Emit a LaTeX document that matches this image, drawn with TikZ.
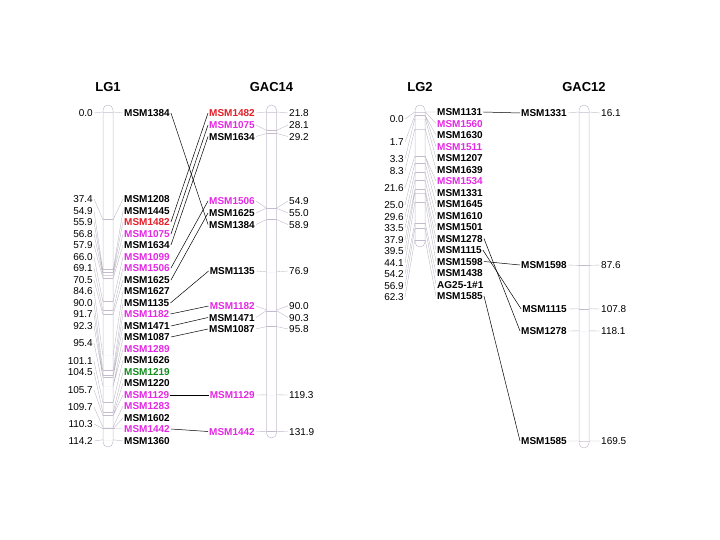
\documentclass[tikz,border=0pt]{standalone}
\usepackage{fontspec}
\setmainfont{Liberation Sans}
\definecolor{mkpink}{RGB}{228,40,228}
\definecolor{mkred}{RGB}{228,30,40}
\definecolor{mkgreen}{RGB}{20,140,30}
\definecolor{barline}{RGB}{196,188,206}
\definecolor{fangray}{RGB}{184,180,192}
\tikzset{
  bar/.style={draw=barline, line width=0.5pt, rounded corners=5pt},
  tk/.style={draw=barline, line width=0.4pt, shape=rectangle, inner sep=0pt, minimum width=10pt, minimum height=0pt},
  num/.style={font=\fontsize{10}{12}\selectfont, inner sep=1pt, text height=7.2pt, text depth=0pt},
  mk/.style={font=\fontsize{10}{12}\selectfont\bfseries, inner sep=1pt, text height=7.2pt, text depth=0pt},
  fan/.style={draw=fangray, line width=0.35pt},
  link/.style={draw=black, line width=0.5pt},
  title/.style={font=\fontsize{13}{15}\selectfont\bfseries}
}
\begin{document}
\begin{tikzpicture}[x=1pt, y=-1pt]
\useasboundingbox (0,0) rectangle (720,540);
% titles
\node[title] (tLG1) at (108,87) {LG1};
\node[title] (tGAC14) at (271.5,87) {GAC14};
\node[title] (tLG2) at (420,87) {LG2};
\node[title] (tGAC12) at (584,87) {GAC12};
% LG1
\draw[bar] (103,105) rectangle (113,447);
\node[tk] (a0) at (108,112.0) {};
\node[tk] (a1) at (108,219.3) {};
\node[tk] (a2) at (108,269.6) {};
\node[tk] (a3) at (108,272.4) {};
\node[tk] (a4) at (108,275.0) {};
\node[tk] (a5) at (108,278.2) {};
\node[tk] (a6) at (108,301.4) {};
\node[tk] (a7) at (108,310.3) {};
\node[tk] (a8) at (108,314.3) {};
\node[tk] (a9) at (108,354.8) {};
\node[tk] (a10) at (108,370.3) {};
\node[tk] (a11) at (108,375.2) {};
\node[tk] (a12) at (108,376.9) {};
\node[tk] (a13) at (108,385.8) {};
\node[tk] (a14) at (108,402.2) {};
\node[tk] (a15) at (108,411.9) {};
\node[tk] (a16) at (108,415.4) {};
\node[tk] (a17) at (108,426.8) {};
\node[tk] (a18) at (108,428.6) {};
\node[tk] (a19) at (108,439.8) {};
\node[num, anchor=east] (na0) at (94,113) {0.0};
\node[num, anchor=east] (na1) at (94,199) {37.4};
\node[num, anchor=east] (na2) at (94,211) {54.9};
\node[num, anchor=east] (na3) at (94,222) {55.9};
\node[num, anchor=east] (na4) at (94,234) {56.8};
\node[num, anchor=east] (na5) at (94,245) {57.9};
\node[num, anchor=east] (na6) at (94,257) {66.0};
\node[num, anchor=east] (na7) at (94,268) {69.1};
\node[num, anchor=east] (na8) at (94,280) {70.5};
\node[num, anchor=east] (na9) at (94,291) {84.6};
\node[num, anchor=east] (na10) at (94,303) {90.0};
\node[num, anchor=east] (na11) at (94,314) {91.7};
\node[num, anchor=east] (na12) at (94,326) {92.3};
\node[num, anchor=east] (na13) at (94,343) {95.4};
\node[num, anchor=east] (na14) at (94,361) {101.1};
\node[num, anchor=east] (na15) at (94,372) {104.5};
\node[num, anchor=east] (na16) at (94,390) {105.7};
\node[num, anchor=east] (na17) at (94,407) {109.7};
\node[num, anchor=east] (na18) at (94,424) {110.3};
\node[num, anchor=east] (na19) at (94,441) {114.2};
\node[mk, anchor=west] (A1384) at (123,113) {MSM1384};
\node[mk, anchor=west] (A1208) at (123,199) {MSM1208};
\node[mk, anchor=west] (A1445) at (123,211) {MSM1445};
\node[mk, anchor=west, mkred] (A1482) at (123,222) {MSM1482};
\node[mk, anchor=west, mkpink] (A1075) at (123,234) {MSM1075};
\node[mk, anchor=west] (A1634) at (123,245) {MSM1634};
\node[mk, anchor=west, mkpink] (A1099) at (123,257) {MSM1099};
\node[mk, anchor=west, mkpink] (A1506) at (123,268) {MSM1506};
\node[mk, anchor=west] (A1625) at (123,280) {MSM1625};
\node[mk, anchor=west] (A1627) at (123,291) {MSM1627};
\node[mk, anchor=west] (A1135) at (123,303) {MSM1135};
\node[mk, anchor=west, mkpink] (A1182) at (123,314) {MSM1182};
\node[mk, anchor=west] (A1471) at (123,326) {MSM1471};
\node[mk, anchor=west] (A1087) at (123,337) {MSM1087};
\node[mk, anchor=west, mkpink] (A1289) at (123,349) {MSM1289};
\node[mk, anchor=west] (A1626) at (123,360) {MSM1626};
\node[mk, anchor=west, mkgreen] (A1219) at (123,372) {MSM1219};
\node[mk, anchor=west] (A1220) at (123,383) {MSM1220};
\node[mk, anchor=west, mkpink] (A1129) at (123,395) {MSM1129};
\node[mk, anchor=west, mkpink] (A1283) at (123,406) {MSM1283};
\node[mk, anchor=west] (A1602) at (123,418) {MSM1602};
\node[mk, anchor=west, mkpink] (A1442) at (123,429) {MSM1442};
\node[mk, anchor=west] (A1360) at (123,441) {MSM1360};
\draw[fan] (na0.east) -- (a0.west) (na1.east) -- (a1.west) (na2.east) -- (a2.west)
  (na3.east) -- (a3.west) (na4.east) -- (a4.west) (na5.east) -- (a5.west)
  (na6.east) -- (a6.west) (na7.east) -- (a7.west) (na8.east) -- (a8.west)
  (na9.east) -- (a9.west) (na10.east) -- (a10.west) (na11.east) -- (a11.west)
  (na12.east) -- (a12.west) (na13.east) -- (a13.west) (na14.east) -- (a14.west)
  (na15.east) -- (a15.west) (na16.east) -- (a16.west) (na17.east) -- (a17.west)
  (na18.east) -- (a18.west) (na19.east) -- (a19.west);
\draw[fan] (a0.east) -- (A1384.west) (a1.east) -- (A1208.west) (a2.east) -- (A1445.west)
  (a3.east) -- (A1482.west) (a4.east) -- (A1075.west) (a5.east) -- (A1634.west)
  (a6.east) -- (A1099.west) (a7.east) -- (A1506.west) (a8.east) -- (A1625.west)
  (a9.east) -- (A1627.west) (a10.east) -- (A1135.west) (a11.east) -- (A1182.west)
  (a12.east) -- (A1471.west) (a13.east) -- (A1087.west) (a13.east) -- (A1289.west)
  (a14.east) -- (A1626.west) (a15.east) -- (A1219.west) (a16.east) -- (A1220.west)
  (a16.east) -- (A1129.west) (a17.east) -- (A1283.west) (a18.east) -- (A1602.west)
  (a18.east) -- (A1442.west) (a19.east) -- (A1360.west);
% GAC14
\draw[bar] (266.5,105) rectangle (276.5,438);
\node[tk] (b0) at (271.5,112.0) {};
\node[tk] (b1) at (271.5,130.3) {};
\node[tk] (b2) at (271.5,133.5) {};
\node[tk] (b3) at (271.5,208.0) {};
\node[tk] (b4) at (271.5,208.3) {};
\node[tk] (b5) at (271.5,219.6) {};
\node[tk] (b6) at (271.5,271.8) {};
\node[tk] (b7) at (271.5,309.8) {};
\node[tk] (b8) at (271.5,310.7) {};
\node[tk] (b9) at (271.5,326.6) {};
\node[tk] (b10) at (271.5,394.8) {};
\node[tk] (b11) at (271.5,431.3) {};
\node[mk, anchor=east, mkred] (B1482) at (256,113) {MSM1482};
\node[mk, anchor=east, mkpink] (B1075) at (256,125) {MSM1075};
\node[mk, anchor=east] (B1634) at (256,136.5) {MSM1634};
\node[mk, anchor=east, mkpink] (B1506) at (256,201) {MSM1506};
\node[mk, anchor=east] (B1625) at (256,213) {MSM1625};
\node[mk, anchor=east] (B1384) at (256,224.5) {MSM1384};
\node[mk, anchor=east] (B1135) at (256,271) {MSM1135};
\node[mk, anchor=east, mkpink] (B1182) at (256,306) {MSM1182};
\node[mk, anchor=east] (B1471) at (256,317.5) {MSM1471};
\node[mk, anchor=east] (B1087) at (256,329) {MSM1087};
\node[mk, anchor=east, mkpink] (B1129) at (256,395) {MSM1129};
\node[mk, anchor=east, mkpink] (B1442) at (256,431.5) {MSM1442};
\node[num, anchor=west] (nb0) at (288,113) {21.8};
\node[num, anchor=west] (nb1) at (288,125) {28.1};
\node[num, anchor=west] (nb2) at (288,136.5) {29.2};
\node[num, anchor=west] (nb3) at (288,201) {54.9};
\node[num, anchor=west] (nb4) at (288,213) {55.0};
\node[num, anchor=west] (nb5) at (288,224.5) {58.9};
\node[num, anchor=west] (nb6) at (288,271) {76.9};
\node[num, anchor=west] (nb7) at (288,306) {90.0};
\node[num, anchor=west] (nb8) at (288,317.5) {90.3};
\node[num, anchor=west] (nb9) at (288,329) {95.8};
\node[num, anchor=west] (nb10) at (288,395) {119.3};
\node[num, anchor=west] (nb11) at (288,431.5) {131.9};
\draw[fan] (B1482.east) -- (b0.west) (B1075.east) -- (b1.west) (B1634.east) -- (b2.west)
  (B1506.east) -- (b3.west) (B1625.east) -- (b4.west) (B1384.east) -- (b5.west)
  (B1135.east) -- (b6.west) (B1182.east) -- (b7.west) (B1471.east) -- (b8.west)
  (B1087.east) -- (b9.west) (B1129.east) -- (b10.west) (B1442.east) -- (b11.west);
\draw[fan] (b0.east) -- (nb0.west) (b1.east) -- (nb1.west) (b2.east) -- (nb2.west)
  (b3.east) -- (nb3.west) (b4.east) -- (nb4.west) (b5.east) -- (nb5.west)
  (b6.east) -- (nb6.west) (b7.east) -- (nb7.west) (b8.east) -- (nb8.west)
  (b9.east) -- (nb9.west) (b10.east) -- (nb10.west) (b11.east) -- (nb11.west);
% LG1 to GAC14
\draw[link] (A1384.east) -- (B1384.west);
\draw[link] (A1482.east) -- (B1482.west);
\draw[link] (A1075.east) -- (B1075.west);
\draw[link] (A1634.east) -- (B1634.west);
\draw[link] (A1506.east) -- (B1506.west);
\draw[link] (A1625.east) -- (B1625.west);
\draw[link] (A1135.east) -- (B1135.west);
\draw[link] (A1182.east) -- (B1182.west);
\draw[link] (A1471.east) -- (B1471.west);
\draw[link] (A1087.east) -- (B1087.west);
\draw[link] (A1129.east) -- (B1129.west);
\draw[link] (A1442.east) -- (B1442.west);
% LG2
\draw[bar] (415,105) rectangle (425,247);
\node[tk] (c0) at (420,112.0) {};
\node[tk] (c1) at (420,115.5) {};
\node[tk] (c2) at (420,118.8) {};
\node[tk] (c3) at (420,129.0) {};
\node[tk] (c4) at (420,156.3) {};
\node[tk] (c5) at (420,163.3) {};
\node[tk] (c6) at (420,172.7) {};
\node[tk] (c7) at (420,180.7) {};
\node[tk] (c8) at (420,189.7) {};
\node[tk] (c9) at (420,193.0) {};
\node[tk] (c10) at (420,202.4) {};
\node[tk] (c11) at (420,223.1) {};
\node[tk] (c12) at (420,228.6) {};
\node[tk] (c13) at (420,239.7) {};
\node[num, anchor=east] (nc0) at (405,119) {0.0};
\node[num, anchor=east] (nc1) at (405,142) {1.7};
\node[num, anchor=east] (nc2) at (405,159) {3.3};
\node[num, anchor=east] (nc3) at (405,171) {8.3};
\node[num, anchor=east] (nc4) at (405,188) {21.6};
\node[num, anchor=east] (nc5) at (405,205) {25.0};
\node[num, anchor=east] (nc6) at (405,217) {29.6};
\node[num, anchor=east] (nc7) at (405,228) {33.5};
\node[num, anchor=east] (nc8) at (405,240) {37.9};
\node[num, anchor=east] (nc9) at (405,251) {39.5};
\node[num, anchor=east] (nc10) at (405,263) {44.1};
\node[num, anchor=east] (nc11) at (405,274) {54.2};
\node[num, anchor=east] (nc12) at (405,286) {56.9};
\node[num, anchor=east] (nc13) at (405,297) {62.3};
\node[mk, anchor=west] (C1131) at (436,112) {MSM1131};
\node[mk, anchor=west, mkpink] (C1560) at (436,123.5) {MSM1560};
\node[mk, anchor=west] (C1630) at (436,135) {MSM1630};
\node[mk, anchor=west, mkpink] (C1511) at (436,146.5) {MSM1511};
\node[mk, anchor=west] (C1207) at (436,158) {MSM1207};
\node[mk, anchor=west] (C1639) at (436,169.5) {MSM1639};
\node[mk, anchor=west, mkpink] (C1534) at (436,181) {MSM1534};
\node[mk, anchor=west] (C1331) at (436,192.5) {MSM1331};
\node[mk, anchor=west] (C1645) at (436,204) {MSM1645};
\node[mk, anchor=west] (C1610) at (436,215.5) {MSM1610};
\node[mk, anchor=west] (C1501) at (436,227) {MSM1501};
\node[mk, anchor=west] (C1278) at (436,238.5) {MSM1278};
\node[mk, anchor=west] (C1115) at (436,250) {MSM1115};
\node[mk, anchor=west] (C1598) at (436,261.5) {MSM1598};
\node[mk, anchor=west] (C1438) at (436,273) {MSM1438};
\node[mk, anchor=west] (Cag25) at (436,284.5) {AG25-1\#1};
\node[mk, anchor=west] (C1585) at (436,296) {MSM1585};
\draw[fan] (nc0.east) -- (c0.west) (nc1.east) -- (c1.west) (nc2.east) -- (c2.west)
  (nc3.east) -- (c3.west) (nc4.east) -- (c4.west) (nc5.east) -- (c5.west)
  (nc6.east) -- (c6.west) (nc7.east) -- (c7.west) (nc8.east) -- (c8.west)
  (nc9.east) -- (c9.west) (nc10.east) -- (c10.west) (nc11.east) -- (c11.west)
  (nc12.east) -- (c12.west) (nc13.east) -- (c13.west);
\draw[fan] (c0.east) -- (C1131.west) (c0.east) -- (C1560.west) (c1.east) -- (C1630.west)
  (c1.east) -- (C1511.west) (c2.east) -- (C1207.west) (c3.east) -- (C1639.west)
  (c4.east) -- (C1534.west) (c4.east) -- (C1331.west) (c5.east) -- (C1645.west)
  (c6.east) -- (C1610.west) (c7.east) -- (C1501.west) (c8.east) -- (C1278.west)
  (c9.east) -- (C1115.west) (c10.east) -- (C1598.west) (c11.east) -- (C1438.west)
  (c12.east) -- (Cag25.west) (c13.east) -- (C1585.west);
% GAC12
\draw[bar] (579,105) rectangle (589,448);
\node[tk] (d0) at (584,112.0) {};
\node[tk] (d1) at (584,265.4) {};
\node[tk] (d2) at (584,308.7) {};
\node[tk] (d3) at (584,330.8) {};
\node[tk] (d4) at (584,441.0) {};
\node[mk, anchor=east] (D1331) at (568,113) {MSM1331};
\node[mk, anchor=east] (D1598) at (568,265) {MSM1598};
\node[mk, anchor=east] (D1115) at (568,309) {MSM1115};
\node[mk, anchor=east] (D1278) at (568,331) {MSM1278};
\node[mk, anchor=east] (D1585) at (568,441) {MSM1585};
\node[num, anchor=west] (nd0) at (600,113) {16.1};
\node[num, anchor=west] (nd1) at (600,265) {87.6};
\node[num, anchor=west] (nd2) at (600,309) {107.8};
\node[num, anchor=west] (nd3) at (600,331) {118.1};
\node[num, anchor=west] (nd4) at (600,441) {169.5};
\draw[fan] (D1331.east) -- (d0.west) (D1598.east) -- (d1.west) (D1115.east) -- (d2.west)
  (D1278.east) -- (d3.west) (D1585.east) -- (d4.west);
\draw[fan] (d0.east) -- (nd0.west) (d1.east) -- (nd1.west) (d2.east) -- (nd2.west)
  (d3.east) -- (nd3.west) (d4.east) -- (nd4.west);
% LG2 to GAC12
\draw[link] (C1131.east) -- (D1331.west);
\draw[link] (C1598.east) -- (D1598.west);
\draw[link] (C1115.east) -- (D1115.west);
\draw[link] (C1278.east) -- (D1278.west);
\draw[link] (C1585.east) -- (D1585.west);
\end{tikzpicture}
\end{document}
